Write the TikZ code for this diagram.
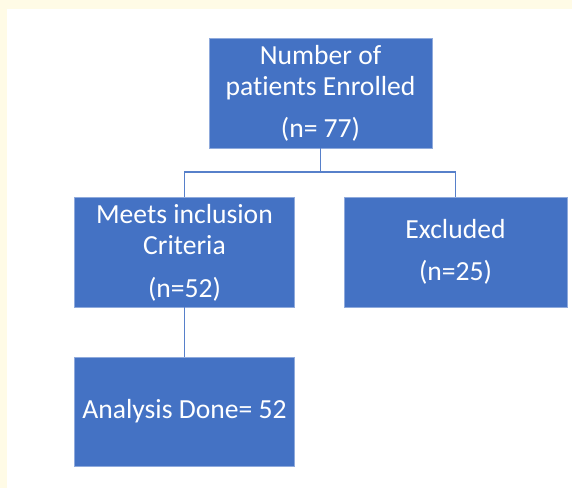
\documentclass[tikz,border=0pt]{standalone}
\usepackage{fontspec}
\setmainfont{Carlito}[Ligatures=NoCommon]
\definecolor{boxblue}{HTML}{4472C4}
\definecolor{edgeblue}{HTML}{8FAADC}
\definecolor{cream}{HTML}{FFFBE6}

\begin{document}
\begin{tikzpicture}[x=1pt,y=-1pt,thick,
  step box/.style={rectangle,fill=boxblue,draw=edgeblue,line width=0.6pt,inner sep=0pt},
  txt/.style={anchor=base,text=white,inner sep=0pt,font=\fontsize{27.6}{31}\selectfont},
  link/.style={draw=boxblue!90,line width=1.5pt}]
  % page and margins
  \fill[cream] (0,0) rectangle (572,488);
  \fill[white] (7,9) rectangle (572,488);
  \useasboundingbox (0,0) rectangle (572,488);

  \node[step box,minimum width=223pt,minimum height=110pt] (enrolled) at (320.5,93) {};
  \node[step box,minimum width=220pt,minimum height=110pt] (meets) at (184.5,252) {};
  \node[step box,minimum width=223pt,minimum height=110pt] (excluded) at (455.5,252) {};
  \node[step box,minimum width=220pt,minimum height=109pt] (analysis) at (184.5,411.5) {};

  \node[txt] (enr1) at (320.5,64) {Number of};
  \node[txt] (enr2) at (320.5,95) {patients Enrolled};
  \node[txt] (enr3) at (320.5,137) {(n= 77)};
  \node[txt] (mts1) at (184.5,223) {Meets inclusion};
  \node[txt] (mts2) at (184.5,254) {Criteria};
  \node[txt] (mts3) at (184.5,297) {(n=52)};
  \node[txt] (exc1) at (455.5,238) {Excluded};
  \node[txt] (exc2) at (455.5,280) {(n=25)};
  \node[txt] (ana1) at (184.5,418) {Analysis Done= 52};

  \coordinate (split) at (320.5,172);
  \path[link] (enrolled.south) -- (split) -| (meets.north);
  \path[link] (split) -| (excluded.north);
  \path[link] (meets.south) -- (analysis.north);
\end{tikzpicture}
\end{document}
